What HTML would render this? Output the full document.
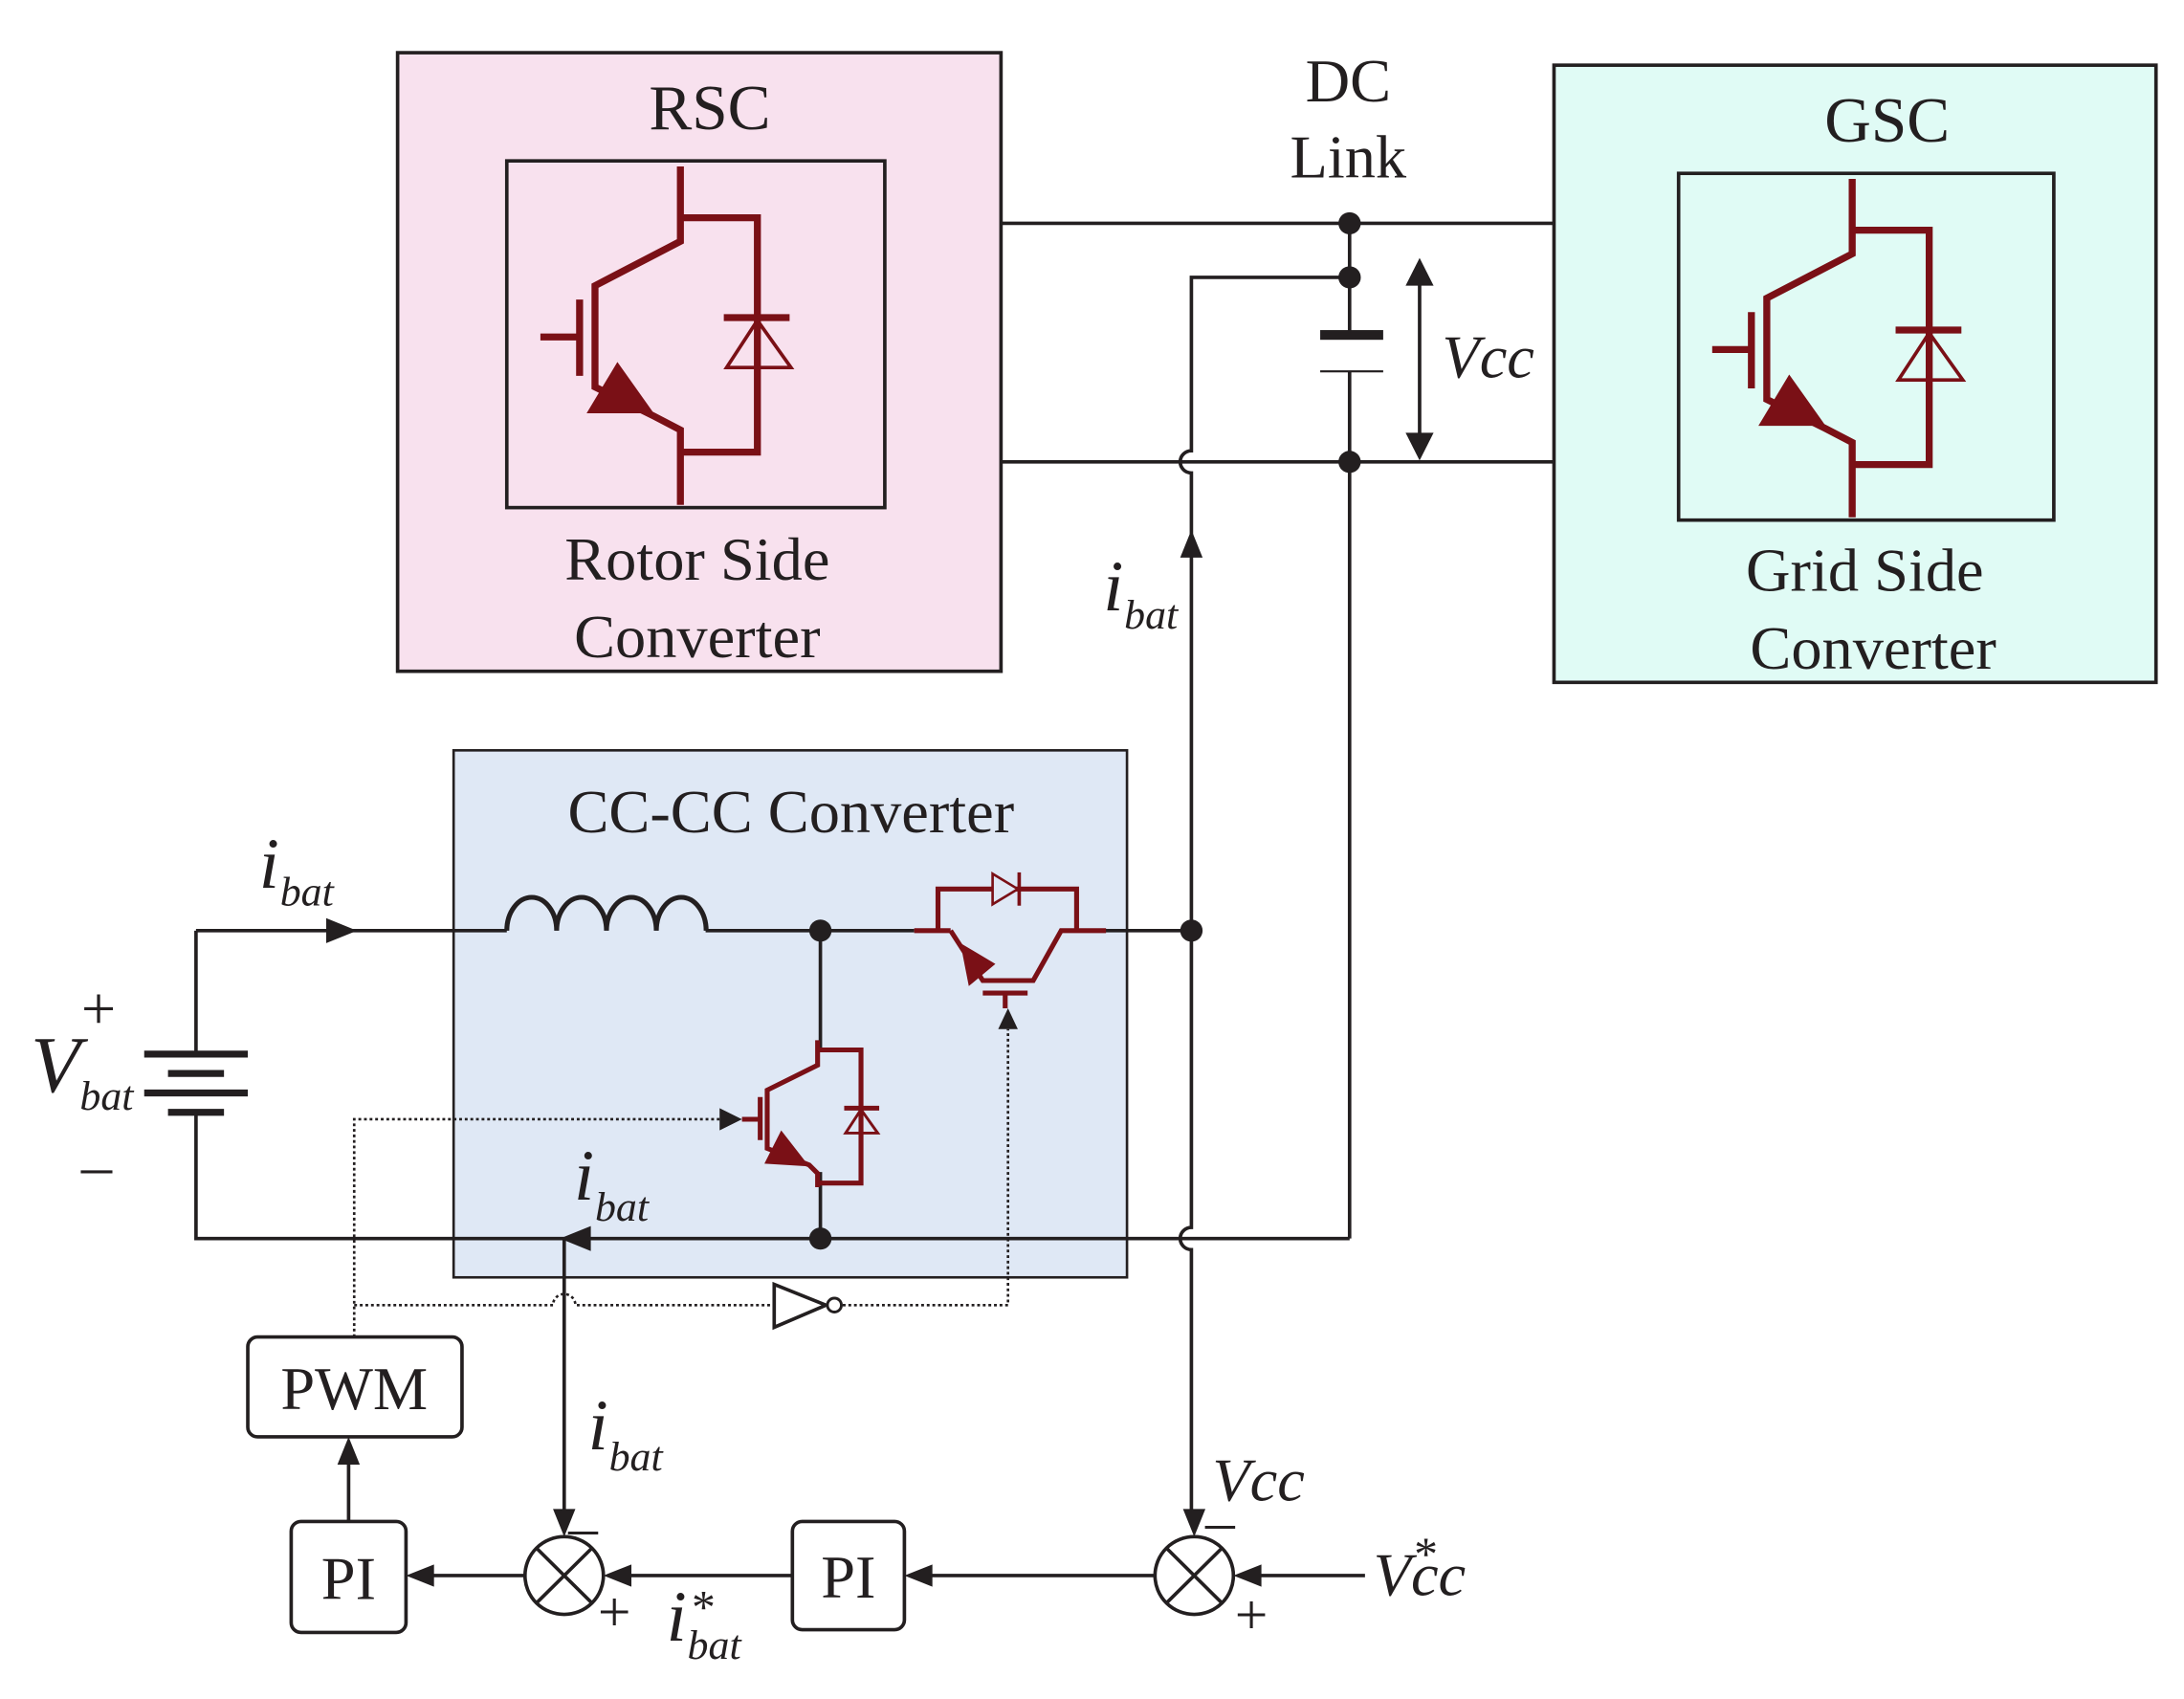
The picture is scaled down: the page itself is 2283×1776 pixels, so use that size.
<!DOCTYPE html>
<html><head><meta charset="utf-8"><style>
html,body{margin:0;padding:0;background:#fff}
svg{display:block}
text{font-family:"Liberation Serif",serif;fill:#231f20}
.i{font-style:italic}
</style></head><body>
<svg width="2283" height="1776" viewBox="0 0 1560 1225" preserveAspectRatio="none" xmlns="http://www.w3.org/2000/svg">
<defs>
<g id="igbt" fill="none" stroke="#7a1016" stroke-width="5">
<polyline points="486,120 486,174 425,206 425,279 467,300 486,310 486,364"/>
<polyline points="486,157 541,157 541,326 486,326"/>
<line x1="414" y1="216" x2="414" y2="271"/>
<line x1="386" y1="243" x2="414" y2="243"/>
<line x1="517" y1="229" x2="564" y2="229"/>
<polygon points="541,231 519,265 565,265" stroke-width="2.5"/>
<polygon points="441,261 419,298 467,298" fill="#7a1016" stroke="none"/>
</g>
</defs>

<rect x="284" y="38" width="431" height="446" fill="#f8e1ee" stroke="#231f20" stroke-width="2.5"/>
<rect x="362" y="116" width="270" height="250" fill="none" stroke="#231f20" stroke-width="2.5"/>
<use href="#igbt"/>
<text x="507" y="93" font-size="46" text-anchor="middle">RSC</text>
<text x="498" y="418" font-size="44" text-anchor="middle">Rotor Side</text>
<text x="498" y="474" font-size="44" text-anchor="middle">Converter</text>

<rect x="1110" y="47" width="430" height="445" fill="#e0fbf5" stroke="#231f20" stroke-width="2.5"/>
<rect x="1199" y="125" width="268" height="250" fill="none" stroke="#231f20" stroke-width="2.5"/>
<use href="#igbt" transform="translate(837,9)"/>
<text x="1348" y="102" font-size="46" text-anchor="middle">GSC</text>
<text x="1332" y="426" font-size="44" text-anchor="middle">Grid Side</text>
<text x="1338" y="482" font-size="44" text-anchor="middle">Converter</text>

<rect x="324" y="541" width="481" height="380" fill="#dfe8f5" stroke="#231f20" stroke-width="1.8"/>
<text x="565" y="600" font-size="44" text-anchor="middle">CC-CC Converter</text>

<text x="963" y="73" font-size="44" text-anchor="middle">DC</text>
<text x="963" y="128" font-size="44" text-anchor="middle">Link</text>
<g stroke="#231f20" stroke-width="2.5" fill="none">
<line x1="715" y1="161" x2="1110" y2="161"/>
<line x1="715" y1="333" x2="1110" y2="333"/>
<line x1="964" y1="161" x2="964" y2="241"/>
<line x1="964" y1="268" x2="964" y2="893"/>
<path d="M964,200 H851 V325 A8,8 0 0 0 851,341 V885 A8,8 0 0 0 851,901 V1095"/>
<line x1="1014" y1="195" x2="1014" y2="323"/>
<path d="M964,893 H140 V802"/>
<line x1="140" y1="671" x2="140" y2="760"/>
<path d="M140,671 H362"/>
<path d="M362,671 a17.8,24 0 0 1 35.6,0 a17.8,24 0 0 1 35.6,0 a17.8,24 0 0 1 35.6,0 a17.8,24 0 0 1 35.6,0" stroke-width="3.5"/>
<line x1="504" y1="671" x2="653" y2="671"/>
<line x1="788" y1="671" x2="851" y2="671"/>
<line x1="586" y1="671" x2="586" y2="756"/>
<line x1="586" y1="845" x2="586" y2="893"/>
<line x1="403" y1="893" x2="403" y2="1095"/>
<line x1="249" y1="1097" x2="249" y2="1050"/>
<line x1="375" y1="1136" x2="300" y2="1136"/>
<line x1="566" y1="1136" x2="443" y2="1136"/>
<line x1="825" y1="1136" x2="656" y2="1136"/>
<line x1="975" y1="1136" x2="893" y2="1136"/>
<circle cx="403" cy="1136" r="28"/>
<line x1="383" y1="1116" x2="423" y2="1156"/><line x1="423" y1="1116" x2="383" y2="1156"/>
<circle cx="853" cy="1136" r="28"/>
<line x1="833" y1="1116" x2="873" y2="1156"/><line x1="873" y1="1116" x2="833" y2="1156"/>
<rect x="177" y="964" width="153" height="72" rx="7"/>
<rect x="208" y="1097" width="82" height="80" rx="7"/>
<rect x="566" y="1097" width="80" height="78" rx="7"/>
</g>
<g fill="#231f20">
<rect x="943" y="238" width="45" height="7"/>
<rect x="943" y="267" width="45" height="1.5"/>
<circle cx="964" cy="161" r="8"/><circle cx="964" cy="200" r="8"/><circle cx="964" cy="333" r="8"/>
<circle cx="851" cy="671" r="8"/><circle cx="586" cy="671" r="8"/><circle cx="586" cy="893" r="8"/>
<polygon points="1014,186 1004,206 1024,206"/>
<polygon points="1014,332 1004,312 1024,312"/>
<polygon points="851,382 843,402 859,402"/>
<polygon points="255,671 233,662 233,680"/>
<polygon points="400,893 422,884 422,902"/>
<polygon points="403,1108 395,1088 411,1088"/>
<polygon points="853,1108 845,1088 861,1088"/>
<polygon points="290,1136 310,1128 310,1144"/>
<polygon points="431,1136 451,1128 451,1144"/>
<polygon points="646,1136 666,1128 666,1144"/>
<polygon points="881,1136 901,1128 901,1144"/>
<polygon points="249,1036 241,1056 257,1056"/>
<polygon points="530,807 514,799 514,815"/>
<polygon points="720,727 713,742 727,742"/>
</g>
<g stroke="#231f20" stroke-width="5">
<line x1="103" y1="760" x2="177" y2="760"/>
<line x1="120" y1="774" x2="160" y2="774"/>
<line x1="103" y1="788" x2="177" y2="788"/>
<line x1="120" y1="802" x2="160" y2="802"/>
</g>
<g stroke="#231f20" stroke-width="1.8" fill="none" stroke-dasharray="2,2">
<path d="M253,964 V807 H514"/>
<path d="M253,941 H395 A8,8 0 0 1 411,941 H553"/>
<path d="M602,941 H720 V742"/>
</g>
<polygon points="553,926 553,957 590,941" fill="none" stroke="#231f20" stroke-width="2.5"/>
<circle cx="596" cy="941" r="5" fill="#fff" stroke="#231f20" stroke-width="2"/>
<g fill="none" stroke="#7a1016" stroke-width="3.5">
<polyline points="584,750 584,768 548,786 548,828 578,840 584,846 584,856"/>
<polyline points="584,757 615,757 615,853 584,853"/>
<line x1="543" y1="791" x2="543" y2="822"/>
<line x1="530" y1="807" x2="543" y2="807"/>
<line x1="603" y1="799" x2="628" y2="799"/>
<polygon points="615,800 604,817 627,817" stroke-width="2"/>
</g>
<polygon points="558,815 546,839 578,841" fill="#7a1016"/>
<g fill="none" stroke="#7a1016" stroke-width="3.5">
<line x1="653" y1="671" x2="679" y2="671"/>
<polyline points="670,671 670,641 769,641 769,671"/>
<polyline points="679,671 702,707 738,707 758,671 790,671"/>
<line x1="702" y1="716" x2="734" y2="716"/>
<line x1="718" y1="716" x2="718" y2="727"/>
<polygon points="709,630 709,652 727,641" stroke-width="1.8" fill="#dfe8f5"/>
<line x1="728" y1="629" x2="728" y2="653" stroke-width="2.5"/>
</g>
<polygon points="686,680 692,711 711,695" fill="#7a1016"/>
<text x="1030" y="272" font-size="44" class="i">Vcc</text>
<text x="788" y="440" font-size="52" class="i">i</text><text x="803" y="453" font-size="30" class="i">bat</text>
<text x="185" y="640" font-size="52" class="i">i</text><text x="200" y="653" font-size="30" class="i">bat</text>
<text x="410" y="865" font-size="52" class="i">i</text><text x="425" y="880" font-size="30" class="i">bat</text>
<text x="420" y="1045" font-size="52" class="i">i</text><text x="435" y="1060" font-size="30" class="i">bat</text>
<text x="22" y="787" font-size="58" class="i">V</text><text x="57" y="800" font-size="30" class="i">bat</text>
<text x="58" y="742" font-size="44">+</text>
<text x="58" y="855" font-size="44">–</text>
<text x="406" y="1115" font-size="42">–</text>
<text x="427" y="1176" font-size="42">+</text>
<text x="861" y="1111" font-size="42">–</text>
<text x="882" y="1178" font-size="42">+</text>
<text x="866" y="1082" font-size="44" class="i">Vcc</text>
<text x="981" y="1150" font-size="44" class="i">Vcc</text><text x="1010" y="1132" font-size="34">*</text>
<text x="476" y="1183" font-size="52" class="i">i</text><text x="494" y="1170" font-size="34">*</text><text x="491" y="1196" font-size="30" class="i">bat</text>
<text x="253" y="1016" font-size="44" text-anchor="middle">PWM</text>
<text x="249" y="1153" font-size="44" text-anchor="middle">PI</text>
<text x="606" y="1152" font-size="44" text-anchor="middle">PI</text>
</svg>
</body></html>
